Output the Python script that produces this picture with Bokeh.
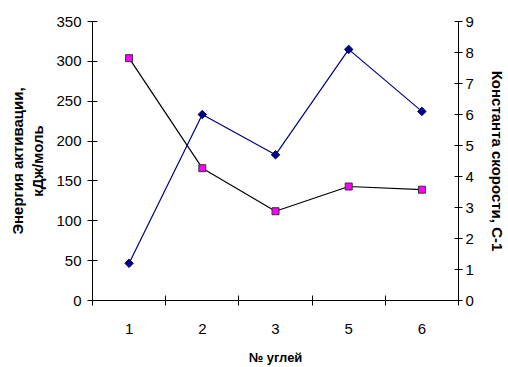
from bokeh.plotting import figure
from bokeh.models import Range1d, LinearAxis, FixedTicker
from bokeh.embed import file_html
from bokeh.resources import INLINE

# Coal samples and measured values
categories = ["1", "2", "3", "5", "6"]
activation_energy = [304, 166, 112, 143, 139]   # kJ/mol, left axis
rate_constant = [1.2, 6.0, 4.7, 8.1, 6.1]       # s^-1, right axis

energy_ticks = list(range(0, 351, 50))
rate_ticks = list(range(0, 10))

positions = list(range(1, len(categories) + 1))
boundaries = [p - 0.5 for p in positions] + [positions[-1] + 0.5]

FONT = "Liberation Sans"

p = figure(width=508, height=367, output_backend="svg", toolbar_location=None,
           x_range=Range1d(0.5, len(categories) + 0.5),
           y_range=Range1d(energy_ticks[0], energy_ticks[-1]),
           min_border_left=92, min_border_right=46, min_border_top=21,
           min_border_bottom=64)
p.extra_y_ranges = {"rate": Range1d(rate_ticks[0], rate_ticks[-1])}

p.outline_line_color = None
p.grid.visible = False
p.background_fill_color = "white"
p.border_fill_color = "white"

# x axis: labels at category centres, tick marks on the boundaries
xa = p.xaxis[0]
xa.ticker = FixedTicker(ticks=positions, minor_ticks=boundaries)
xa.major_label_overrides = {pos: c for pos, c in zip(positions, categories)}
xa.major_tick_in = 0
xa.major_tick_out = 0
xa.minor_tick_in = 5
xa.minor_tick_out = 5
xa.minor_tick_line_color = "black"
xa.major_label_standoff = 18
xa.axis_label = "№ углей"
xa.axis_label_standoff = 13

# left axis: activation energy
ya = p.yaxis[0]
ya.ticker = FixedTicker(ticks=energy_ticks)
ya.minor_tick_line_color = None
ya.major_tick_in = 5
ya.major_tick_out = 5
ya.major_label_standoff = 6
ya.axis_label = "Энергия активации,\nкДж/моль"
ya.axis_label_standoff = 7

# right axis: rate constant
ra = LinearAxis(y_range_name="rate", ticker=FixedTicker(ticks=rate_ticks))
ra.minor_tick_line_color = None
ra.major_tick_in = 4
ra.major_tick_out = 4
ra.major_label_standoff = 3
ra.axis_label = "Константа скорости, С-1"
ra.axis_label_standoff = 12
p.add_layout(ra, "right")

for ax in (xa, ya, ra):
    ax.axis_line_color = "black"
    ax.major_tick_line_color = "black"
    ax.major_label_text_font = FONT
    ax.major_label_text_font_size = "15px"
    ax.major_label_text_color = "black"
    ax.axis_label_text_font = FONT
    ax.axis_label_text_font_size = "15px"
    ax.axis_label_text_font_style = "bold"
    ax.axis_label_text_color = "black"
xa.axis_label_text_font_size = "13px"

# rate constant series (navy, diamonds)
p.line(positions, rate_constant, y_range_name="rate", line_color="#000080",
       line_width=1.2)
p.scatter(positions, rate_constant, y_range_name="rate", marker="square",
          angle=0.785398, size=6, fill_color="#000080", line_color="#000080")

# activation energy series (black line, magenta squares)
p.line(positions, activation_energy, line_color="black", line_width=1.2)
p.scatter(positions, activation_energy, marker="square", size=7,
          fill_color="#FF00FF", line_color="#333333", line_width=1)

open("out.html", "w").write(file_html(p, INLINE))
